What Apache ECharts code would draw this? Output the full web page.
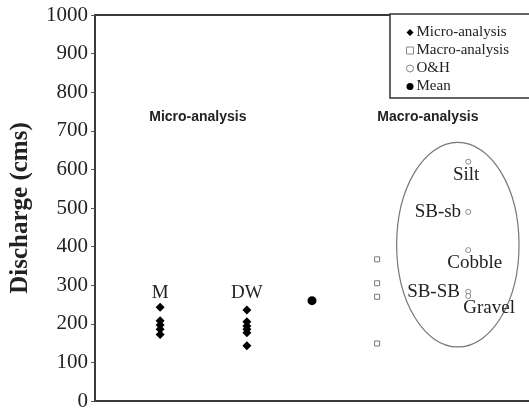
<!DOCTYPE html>
<html>
<head>
<meta charset="utf-8">
<script src="https://cdn.jsdelivr.net/npm/echarts@6/dist/echarts.min.js"></script>
<style>
html,body{margin:0;padding:0;background:#fff;}
#chart{width:529px;height:409px;}
</style>
</head>
<body>
<div id="chart"></div>
<script>
// x positions of each group (value axis, no labels shown)
var xMicroM = 1.5;
var xMicroDW = 3.5;
var xMean = 5.0;
var xMacro = 6.5;
var xOH = 8.6;
var xRange = [0, 10.23];

// discharge values (cms)
var microM = [243, 208, 197, 186, 172];
var microDW = [236, 205, 194, 186, 177, 143];
var macroVals = [367, 305, 270, 149];
var ohNames = ["Silt", "SB-sb", "Cobble", "SB-SB", "Gravel"];
var ohVals = [620, 490, 391, 283, 272];
var meanVal = [260];

var yTicks = [0, 1000, 100];

// text annotations [x, y, text]
var annotations = [
    [xMicroM, 280, "M"],
    [xMicroDW, 280, "DW"],
    [8.55, 585, "Silt"],
    [7.9, 490, "SB-sb"],
    [8.75, 357, "Cobble"],
    [7.8, 282, "SB-SB"],
    [9.08, 240, "Gravel"]
];
var groupTitles = [
    [2.37, 736, "Micro-analysis"],
    [7.67, 736, "Macro-analysis"]
];
// ellipse around O&H points: center x, center y, radius x, radius y (data units)
var ohEllipse = [8.36, 405, 1.41, 265];

function pts(x, vals) {
    return vals.map(function (v) { return [x, v]; });
}

var chart = echarts.init(document.getElementById("chart"));
var serif = "Liberation Serif";
var emptyStyle = {color: "#fff", borderColor: "#888", borderWidth: 1};

var option = {
    animation: false,
    grid: {
        left: 95,
        top: 15,
        right: -10,
        bottom: 8,
        outerBoundsMode: "none",
        containLabel: false,
        show: true,
        borderColor: "#3a3a3a",
        borderWidth: 2
    },
    legend: {
        left: 390,
        top: 14,
        orient: "vertical",
        padding: [11, 40, 4, 16],
        itemWidth: 7,
        itemHeight: 7,
        itemGap: 3,
        backgroundColor: "#fff",
        borderColor: "#333",
        borderWidth: 1.5,
        textStyle: {
            fontFamily: serif,
            fontSize: 15,
            color: "#222",
            lineHeight: 14,
            padding: [0, 0, 0, -2]
        },
        data: [
            {name: "Micro-analysis", icon: "diamond", itemStyle: {color: "#000"}},
            {name: "Macro-analysis", icon: "rect", itemStyle: emptyStyle},
            {name: "O&H", icon: "circle", itemStyle: emptyStyle},
            {name: "Mean", icon: "circle", itemStyle: {color: "#000"}}
        ],
        z: 10
    },
    xAxis: {
        type: "value",
        min: xRange[0],
        max: xRange[1],
        axisLine: {show: false},
        axisTick: {show: false},
        axisLabel: {show: false},
        splitLine: {show: false}
    },
    yAxis: {
        type: "value",
        min: yTicks[0],
        max: yTicks[1],
        interval: yTicks[2],
        name: "Discharge (cms)",
        nameLocation: "middle",
        nameGap: 62,
        nameTextStyle: {
            fontFamily: serif,
            fontWeight: "bold",
            fontSize: 25,
            color: "#222"
        },
        axisLine: {show: true, lineStyle: {color: "#3a3a3a", width: 2}},
        axisTick: {show: true, length: 4, lineStyle: {color: "#555"}},
        axisLabel: {
            fontFamily: serif,
            fontSize: 21,
            color: "#222",
            margin: 7,
            formatter: function (v) { return String(v); }
        },
        splitLine: {show: false}
    },
    series: [
        {
            name: "Micro-analysis",
            type: "scatter",
            symbol: "diamond",
            symbolSize: 9,
            itemStyle: {color: "#000", opacity: 1},
            data: pts(xMicroM, microM).concat(pts(xMicroDW, microDW))
        },
        {
            name: "Macro-analysis",
            type: "scatter",
            symbol: "rect",
            symbolSize: 5,
            itemStyle: {color: "#fff", borderColor: "#777", borderWidth: 1, opacity: 1},
            data: pts(xMacro, macroVals)
        },
        {
            name: "O&H",
            type: "scatter",
            symbol: "circle",
            symbolSize: 5,
            itemStyle: {color: "#fff", borderColor: "#888", borderWidth: 1, opacity: 1},
            data: pts(xOH, ohVals)
        },
        {
            name: "Mean",
            type: "scatter",
            symbol: "circle",
            symbolSize: 9,
            itemStyle: {color: "#000", opacity: 1},
            data: pts(xMean, meanVal)
        },
        {
            name: "labels",
            type: "scatter",
            symbolSize: 0,
            silent: true,
            itemStyle: {opacity: 1},
            label: {
                show: true,
                position: "inside",
                fontFamily: serif,
                fontSize: 19,
                color: "#222",
                formatter: function (p) { return p.value[2]; }
            },
            data: annotations
        },
        {
            name: "titles",
            type: "scatter",
            symbolSize: 0,
            silent: true,
            itemStyle: {opacity: 1},
            label: {
                show: true,
                position: "inside",
                fontFamily: "Liberation Sans",
                fontWeight: "bold",
                fontSize: 14,
                color: "#222",
                formatter: function (p) { return p.value[2]; }
            },
            data: groupTitles
        }
    ]
};
chart.setOption(option);

// ellipse around O&H group
var c = chart.convertToPixel({gridIndex: 0}, [ohEllipse[0], ohEllipse[1]]);
var e = chart.convertToPixel({gridIndex: 0}, [ohEllipse[0] + ohEllipse[2], ohEllipse[1] + ohEllipse[3]]);
chart.setOption({
    graphic: [{
        type: "ellipse",
        shape: {cx: c[0], cy: c[1], rx: Math.abs(e[0] - c[0]), ry: Math.abs(c[1] - e[1])},
        style: {fill: "none", stroke: "#777", lineWidth: 1.2},
        z: 1
    }]
});
</script>
</body>
</html>
